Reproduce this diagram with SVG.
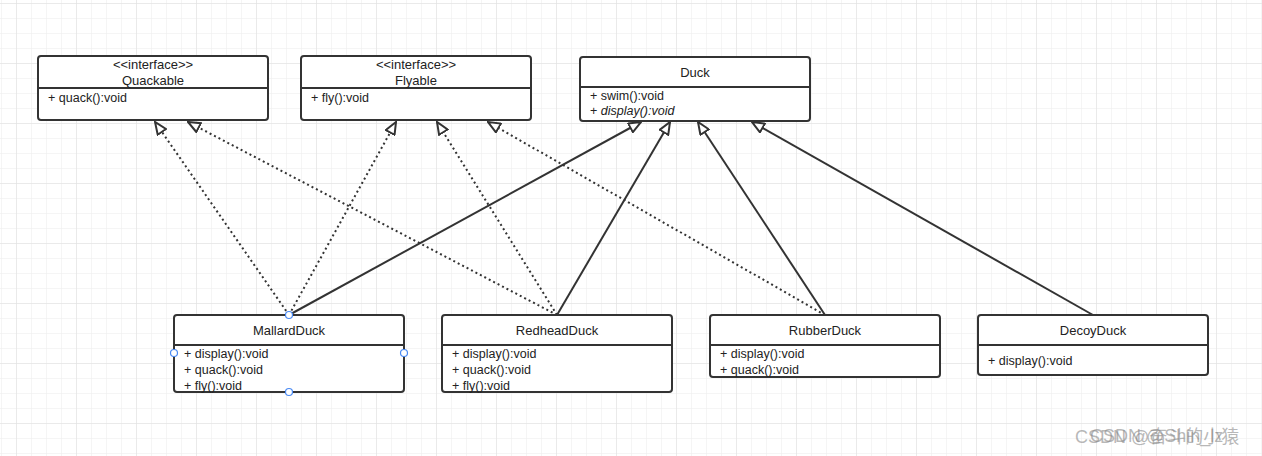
<svg xmlns="http://www.w3.org/2000/svg" width="1262" height="456" viewBox="0 0 1262 456">
<style>
.box{fill:#fff;stroke:#333;stroke-width:2}
.div{stroke:#333;stroke-width:2}
.t{font-family:"Liberation Sans",Arial,sans-serif;font-size:13px;fill:#222}
.c{text-anchor:middle}
.m{font-family:"Liberation Sans",Arial,sans-serif;font-size:12.5px;fill:#222}
.real{fill:none;stroke:#333;stroke-width:2;stroke-dasharray:2 3}
.gen{fill:none;stroke:#333;stroke-width:2}
.h{fill:#fff;stroke:#4a8af4;stroke-width:1.2}
.wm{font-family:"Liberation Sans","Noto Sans CJK SC",sans-serif;font-size:18px;fill:#888;fill-opacity:0.6}
</style>
<defs>
<pattern id="minor" width="15" height="15" patternUnits="userSpaceOnUse" x="1" y="3">
<path d="M0 0H15M0 0V15" stroke="#ececec" stroke-width="1" fill="none"/>
</pattern>
<pattern id="major" width="60" height="60" patternUnits="userSpaceOnUse" x="16" y="3">
<path d="M0 0H60M0 0V60" stroke="#e0e0e0" stroke-width="1" fill="none"/>
</pattern>
<marker id="tri" viewBox="0 0 14 12" refX="13" refY="6" markerWidth="14" markerHeight="12" markerUnits="userSpaceOnUse" orient="auto">
<path d="M1 1L13 6L1 11Z" fill="#fff" stroke="#333" stroke-width="2" stroke-dasharray="none"/>
</marker>
</defs>
<rect width="1262" height="456" fill="#fff"/>
<rect width="1262" height="456" fill="url(#minor)"/>
<rect width="1262" height="456" fill="url(#major)"/>

<g id="connectors">
<path class="real" d="M289 315L155 122" marker-end="url(#tri)"/>
<path class="real" d="M289 315L396 122" marker-end="url(#tri)"/>
<path class="real" d="M557 315L188 122" marker-end="url(#tri)"/>
<path class="real" d="M557 315L437 122" marker-end="url(#tri)"/>
<path class="real" d="M825 315L488 122" marker-end="url(#tri)"/>
<path class="gen" d="M289 315L641 122" marker-end="url(#tri)"/>
<path class="gen" d="M557 315L670 122" marker-end="url(#tri)"/>
<path class="gen" d="M825 315L698 122" marker-end="url(#tri)"/>
<path class="gen" d="M1093 315L752 122" marker-end="url(#tri)"/>
</g>

<g id="Quackable">
<rect class="box" x="38" y="56" width="230" height="64" rx="3"/>
<line class="div" x1="38" y1="88" x2="268" y2="88"/>
<text class="t c" x="153" y="69">&lt;&lt;interface&gt;&gt;</text>
<text class="t c" x="153" y="85">Quackable</text>
<text class="m" x="48" y="102">+ quack():void</text>
</g>

<g id="Flyable">
<rect class="box" x="301" y="56" width="230" height="64" rx="3"/>
<line class="div" x1="301" y1="88" x2="531" y2="88"/>
<text class="t c" x="416" y="69">&lt;&lt;interface&gt;&gt;</text>
<text class="t c" x="416" y="85">Flyable</text>
<text class="m" x="311" y="102">+ fly():void</text>
</g>

<g id="Duck">
<rect class="box" x="580" y="57" width="230" height="64" rx="3"/>
<line class="div" x1="580" y1="87" x2="810" y2="87"/>
<text class="t c" x="695" y="77">Duck</text>
<text class="m" x="590" y="100">+ swim():void</text>
<text class="m" x="590" y="115">+ <tspan font-style="italic">display():void</tspan></text>
</g>

<g id="MallardDuck">
<rect class="box" x="174" y="315" width="230" height="77" rx="3"/>
<line class="div" x1="174" y1="345" x2="404" y2="345"/>
<text class="t c" x="289" y="335">MallardDuck</text>
<text class="m" x="184" y="358">+ display():void</text>
<text class="m" x="184" y="374">+ quack():void</text>
<text class="m" x="184" y="390">+ fly():void</text>
<circle class="h" cx="289" cy="315" r="3.5"/>
<circle class="h" cx="174" cy="353" r="3.5"/>
<circle class="h" cx="404" cy="353" r="3.5"/>
<circle class="h" cx="289" cy="392" r="3.5"/>
</g>

<g id="RedheadDuck">
<rect class="box" x="442" y="315" width="230" height="77" rx="3"/>
<line class="div" x1="442" y1="345" x2="672" y2="345"/>
<text class="t c" x="557" y="335">RedheadDuck</text>
<text class="m" x="452" y="358">+ display():void</text>
<text class="m" x="452" y="374">+ quack():void</text>
<text class="m" x="452" y="390">+ fly():void</text>
</g>

<g id="RubberDuck">
<rect class="box" x="710" y="315" width="230" height="62" rx="3"/>
<line class="div" x1="710" y1="345" x2="940" y2="345"/>
<text class="t c" x="825" y="335">RubberDuck</text>
<text class="m" x="720" y="358">+ display():void</text>
<text class="m" x="720" y="374">+ quack():void</text>
</g>

<g id="DecoyDuck">
<rect class="box" x="978" y="315" width="230" height="60" rx="3"/>
<line class="div" x1="978" y1="345" x2="1208" y2="345"/>
<text class="t c" x="1093" y="335">DecoyDuck</text>
<text class="m" x="988" y="365">+ display():void</text>
</g>

<g id="watermark">
<text class="wm" x="1075" y="443">CSDN @奋斗的小猿</text>
<text class="wm" x="1090" y="442">CSDN @Shin_lz</text>
</g>
</svg>
